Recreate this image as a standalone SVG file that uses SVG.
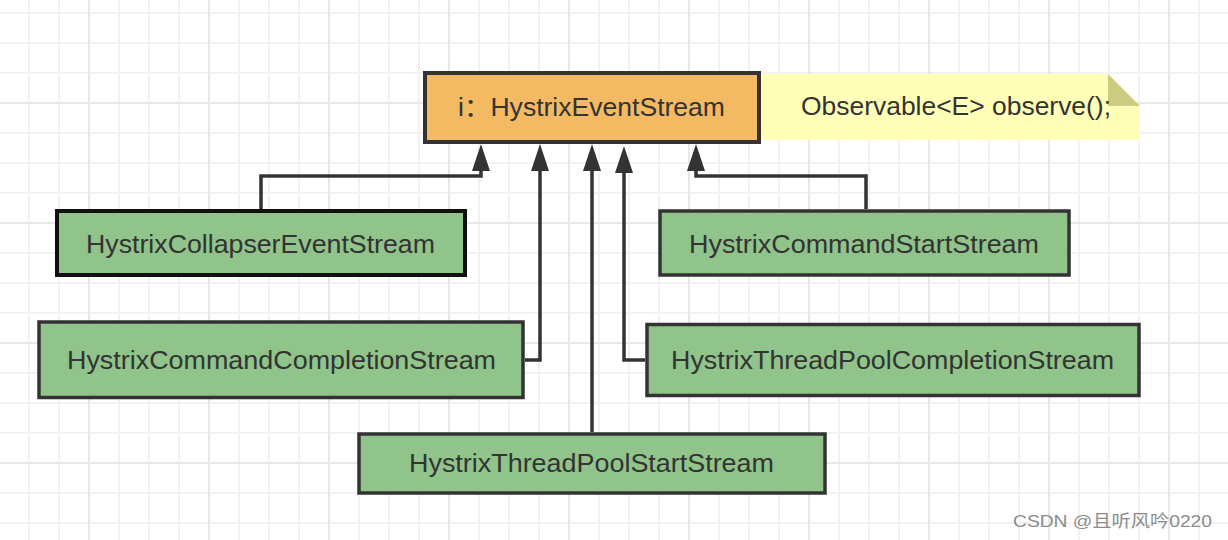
<svg xmlns="http://www.w3.org/2000/svg" width="1228" height="540" viewBox="0 0 1228 540">
  <style>
    .lbl { font-family: "Liberation Sans", "Noto Sans CJK SC", Arial, sans-serif; font-size: 25px; fill: #333333; }
    .green { fill: #90C48A; stroke: #333333; stroke-width: 3.5; }
    .conn { fill: none; stroke: #333333; stroke-width: 3.5; stroke-linejoin: miter; }
    .wm { font-family: "Liberation Sans", "Noto Sans CJK SC", sans-serif; font-size: 17px; fill: #8c8c8c; }
  </style>
  <defs>
    <pattern id="gridMinor" patternUnits="userSpaceOnUse" x="14" y="-2" width="30" height="30">
      <path d="M15,0 V30 M0,15 H30" stroke="#F2F2F2" stroke-width="2" fill="none"/>
    </pattern>
    <pattern id="gridMajor" patternUnits="userSpaceOnUse" x="29" y="43" width="120" height="120">
      <path d="M60,0 V120 M0,60 H120" stroke="#E8E8E8" stroke-width="2" fill="none"/>
    </pattern>
    <marker id="arrow" markerUnits="userSpaceOnUse" markerWidth="28" markerHeight="20" viewBox="0 0 28 20" refX="0" refY="10" orient="auto">
      <path d="M0,1 L27,10 L0,19 Z" fill="#333333"/>
    </marker>
  </defs>

  <rect width="1228" height="540" fill="#FFFFFF"/>
  <rect width="1228" height="540" fill="url(#gridMinor)"/>
  <rect width="1228" height="540" fill="url(#gridMajor)"/>

  <g id="connectors">
    <path class="conn" d="M261,209 V176 H481 V171" marker-end="url(#arrow)"/>
    <path class="conn" d="M525,360 H540 V171" marker-end="url(#arrow)"/>
    <path class="conn" d="M592,432 V171" marker-end="url(#arrow)"/>
    <path class="conn" d="M645,360 H624 V173" marker-end="url(#arrow)"/>
    <path class="conn" d="M866,209 V176 H696 V171" marker-end="url(#arrow)"/>
  </g>

  <g id="note">
    <path d="M760,74 H1108 L1140,106 V140 H760 Z" fill="#FFFFB8"/>
    <path d="M1108,74 V106 H1140 Z" fill="#CCCC80"/>
    <text class="lbl" x="801" y="115" textLength="310" lengthAdjust="spacingAndGlyphs">Observable&lt;E&gt; observe();</text>
  </g>

  <g id="HystrixEventStream">
    <rect x="425" y="73" width="334" height="69" fill="#F4B963" stroke="#333333" stroke-width="4"/>
    <text class="lbl" x="458" y="116" textLength="267" lengthAdjust="spacingAndGlyphs">i：HystrixEventStream</text>
  </g>

  <g id="HystrixCollapserEventStream">
    <rect x="57" y="211" width="408" height="64" fill="#90C48A" stroke="#111111" stroke-width="4"/>
    <text class="lbl" x="86" y="253" textLength="349" lengthAdjust="spacingAndGlyphs">HystrixCollapserEventStream</text>
  </g>

  <g id="HystrixCommandStartStream">
    <rect class="green" x="660" y="211" width="409" height="64"/>
    <text class="lbl" x="689" y="253" textLength="350" lengthAdjust="spacingAndGlyphs">HystrixCommandStartStream</text>
  </g>

  <g id="HystrixCommandCompletionStream">
    <rect class="green" x="39" y="322" width="484" height="75.5"/>
    <text class="lbl" x="67" y="368.5" textLength="429" lengthAdjust="spacingAndGlyphs">HystrixCommandCompletionStream</text>
  </g>

  <g id="HystrixThreadPoolCompletionStream">
    <rect class="green" x="647" y="324.5" width="492" height="71"/>
    <text class="lbl" x="671" y="368.5" textLength="443" lengthAdjust="spacingAndGlyphs">HystrixThreadPoolCompletionStream</text>
  </g>

  <g id="HystrixThreadPoolStartStream">
    <rect class="green" x="359" y="434" width="466" height="59"/>
    <text class="lbl" x="409" y="472" textLength="365" lengthAdjust="spacingAndGlyphs">HystrixThreadPoolStartStream</text>
  </g>

  <text class="wm" x="1013" y="527" textLength="199" lengthAdjust="spacingAndGlyphs">CSDN @且听风吟0220</text>
</svg>
